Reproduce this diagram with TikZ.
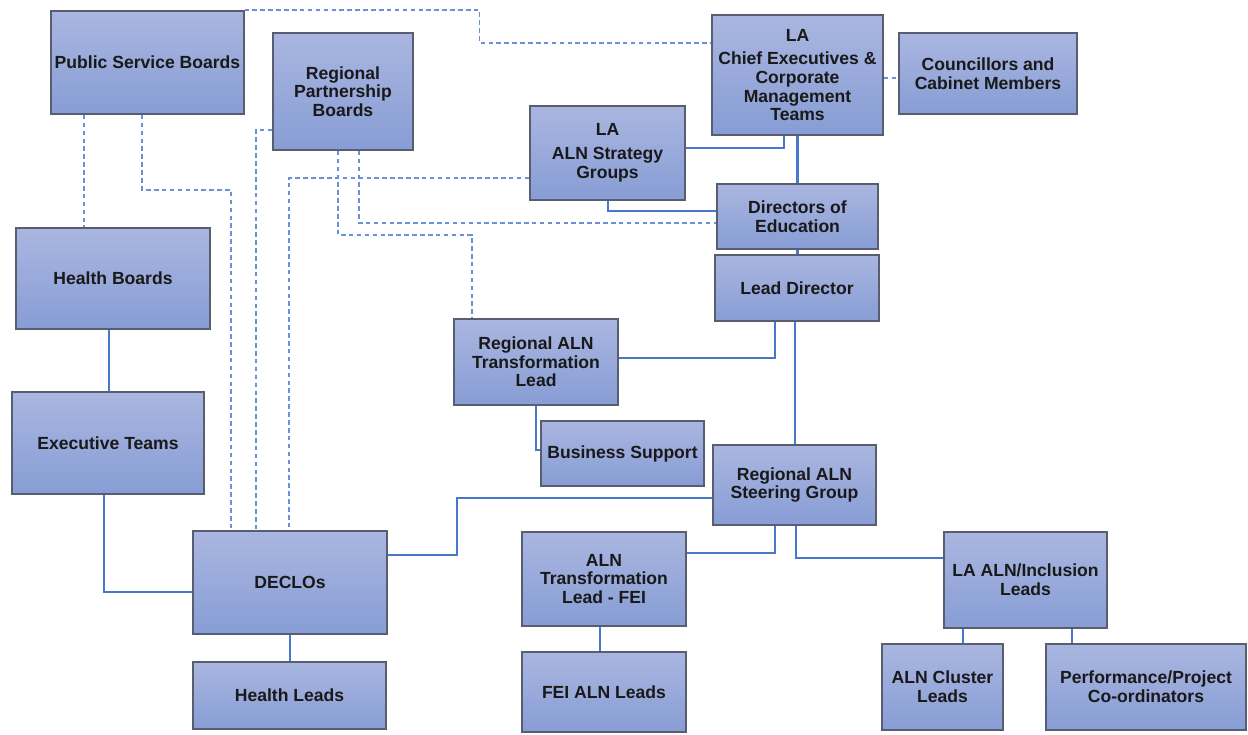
\documentclass[tikz,border=0pt]{standalone}
\usepackage{fontspec}
\setmainfont{Liberation Sans}
\usepackage{xcolor}
\usepackage{tikz}
\usetikzlibrary{calc,positioning}
\definecolor{boxtop}{HTML}{AAB6E0}
\definecolor{boxbottom}{HTML}{879DD5}
\definecolor{boxedge}{HTML}{585E70}
\definecolor{linksolid}{HTML}{4878CC}
\definecolor{linkdash}{HTML}{6A90DA}
\tikzset{org-box/.style={draw=boxedge, line width=0.9pt, top color=boxtop, bottom color=boxbottom, inner sep=2pt, align=center, text=black!90, font=\bfseries\fontsize{10}{10.6}\selectfont}}
\tikzset{org-line/.style={draw=linksolid, line width=1.3pt}}
\tikzset{org-dash/.style={draw=linkdash, line width=0.9pt, dash pattern=on 2.6pt off 1.9pt}}

\begin{document}
\begin{tikzpicture}[x=0.02cm, y=-0.02cm]
            \useasboundingbox (0,0) rectangle (1248,734);

            \node[org-box, minimum width=3.82cm, minimum height=2.06cm] (psb) at (147.5,62.5) {Public Service Boards};
            \node[org-box, minimum width=2.8cm, minimum height=2.34cm] (rpb) at (343,91.5) {Regional\\Partnership\\Boards};
            \node[org-box, minimum width=3.42cm, minimum height=2.4cm] (lace) at (797.5,75) {LA\\[3pt]Chief Executives \&\\Corporate\\Management\\Teams};
            \node[org-box, minimum width=3.56cm, minimum height=1.62cm] (cllr) at (988,73.5) {Councillors and\\Cabinet Members};
            \node[org-box, minimum width=3.1cm, minimum height=1.88cm] (alnsg) at (607.5,153) {LA\\[3pt]ALN Strategy\\Groups};
            \node[org-box, minimum width=3.22cm, minimum height=1.3cm] (doe) at (797.5,216.5) {Directors of\\Education};
            \node[org-box, minimum width=3.28cm, minimum height=1.32cm] (ld) at (797,288) {Lead Director};

            \node[org-box, minimum width=3.28cm, minimum height=1.72cm] (ratl) at (536,362) {Regional ALN\\Transformation\\Lead};
            \node[org-box, minimum width=3.26cm, minimum height=1.3cm] (bs) at (622.5,453.5) {Business Support};
            \node[org-box, minimum width=3.26cm, minimum height=1.6cm] (rsg) at (794.5,485) {Regional ALN\\Steering Group};

            \node[org-box, minimum width=3.88cm, minimum height=2.02cm] (hb) at (113,278.5) {Health Boards};
            \node[org-box, minimum width=3.84cm, minimum height=2.04cm] (et) at (108,443) {Executive Teams};
            \node[org-box, minimum width=3.88cm, minimum height=2.06cm] (declos) at (290,582.5) {DECLOs};
            \node[org-box, minimum width=3.86cm, minimum height=1.34cm] (hl) at (289.5,695.5) {Health Leads};

            \node[org-box, minimum width=3.28cm, minimum height=1.88cm] (atlf) at (604,579) {ALN\\Transformation\\Lead - FEI};
            \node[org-box, minimum width=3.28cm, minimum height=1.6cm] (feil) at (604,692) {FEI ALN Leads};
            \node[org-box, minimum width=3.26cm, minimum height=1.92cm] (laal) at (1025.5,580) {LA ALN/Inclusion\\Leads};
            \node[org-box, minimum width=2.42cm, minimum height=1.72cm] (acl) at (942.5,687) {ALN Cluster\\Leads};
            \node[org-box, minimum width=4cm, minimum height=1.72cm] (ppc) at (1146,687) {Performance/Project\\Co-ordinators};

            \draw[org-dash] (psb.north east) -- ++(235,0) |- ($(lace.west)+(0,-32)$);
            \draw[org-dash] ($(lace.east)+(0,3)$) coordinate (lc) -- (lc -| cllr.west);
            \draw[org-dash] ($(psb.south)+(-63.5,0)$) coordinate (ph) -- (ph |- hb.north);
            \draw[org-dash] ($(psb.south)+(-5.5,0)$) -- ++(0,75) -| ($(declos.north)+(-59,0)$);
            \draw[org-dash] ($(rpb.west)+(0,38.5)$) -| ($(declos.north)+(-34,0)$);
            \draw[org-dash] ($(alnsg.west)+(0,25)$) -| ($(declos.north)+(-1,0)$);
            \draw[org-dash] ($(rpb.south)+(-5,0)$) -- ++(0,84) -| ($(ratl.north)+(-64,0)$);
            \draw[org-dash] ($(rpb.south)+(16,0)$) |- ($(doe.west)+(0,6.5)$);

            \draw[org-line] ($(lace.south)+(-13.5,0)$) |- ($(alnsg.east)+(0,-5)$);
            \draw[org-line] (lace.south) -- (doe.north);
            \draw[org-line] ($(alnsg.south)+(0.5,0)$) |- ($(doe.west)+(0,-5.5)$);
            \draw[org-line] (doe.south) -- (doe.south |- ld.north);
            \draw[org-line] ($(ld.south)+(-22,0)$) |- ($(ratl.east)+(0,-4)$);
            \draw[org-line] ($(ld.south)+(-2,0)$) coordinate (lr) -- (lr |- rsg.north);
            \draw[org-line] (ratl.south) |- ($(bs.west)+(0,-3.5)$);
            \draw[org-line] ($(rsg.west)+(0,13)$) -- ++(-255,0) |- ($(declos.east)+(0,-27.5)$);
            \draw[org-line] ($(rsg.south)+(-19.5,0)$) |- ($(atlf.east)+(0,-26)$);
            \draw[org-line] ($(rsg.south)+(1.5,0)$) |- ($(laal.west)+(0,-22)$);
            \draw[org-line] ($(laal.south)+(-62.5,0)$) coordinate (la) -- (la |- acl.north);
            \draw[org-line] ($(laal.south)+(46.5,0)$) coordinate (lp) -- (lp |- ppc.north);
            \draw[org-line] ($(atlf.south)+(-4,0)$) coordinate (af) -- (af |- feil.north);
            \draw[org-line] ($(hb.south)+(-4,0)$) coordinate (he) -- (he |- et.north);
            \draw[org-line] ($(et.south)+(-4,0)$) |- ($(declos.west)+(0,9.5)$);
            \draw[org-line] (declos.south) -- (declos.south |- hl.north);

        \end{tikzpicture}
\end{document}
